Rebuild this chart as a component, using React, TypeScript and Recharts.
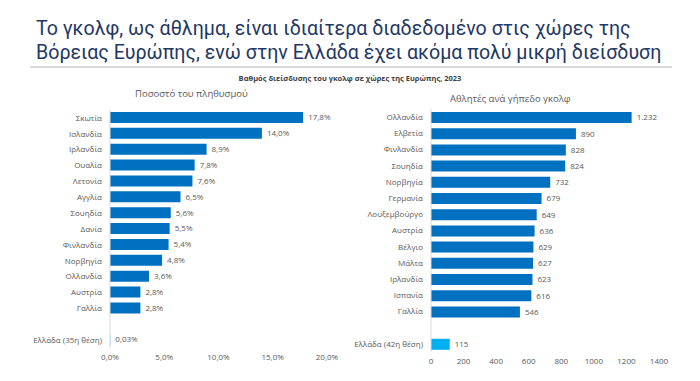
import { BarChart, Bar, XAxis, YAxis, LabelList, Cell } from "recharts";

const shareCountries = [
  "Σκωτία", "Ισλανδία", "Ιρλανδία", "Ουαλία", "Λετονία", "Αγγλία", "Σουηδία",
  "Δανία", "Φινλανδία", "Νορβηγία", "Ολλανδία", "Αυστρία", "Γαλλία", "", "Ελλάδα (35η θέση)",
];
const shareValues: (number | null)[] = [
  17.8, 14.0, 8.9, 7.8, 7.6, 6.5, 5.6, 5.5, 5.4, 4.8, 3.6, 2.8, 2.8, null, 0.03,
];
const shareTicks = [0, 5, 10, 15, 20];

const playerCountries = [
  "Ολλανδία", "Ελβετία", "Φινλανδία", "Σουηδία", "Νορβηγία", "Γερμανία", "Λουξεμβούργο",
  "Αυστρία", "Βέλγιο", "Μάλτα", "Ιρλανδία", "Ισπανία", "Γαλλία", "", "Ελλάδα (42η θέση)",
];
const playerValues: (number | null)[] = [
  1232, 890, 828, 824, 732, 679, 649, 636, 629, 627, 623, 616, 546, null, 115,
];
const playerTicks = [0, 200, 400, 600, 800, 1000, 1200, 1400];

const BLUE = "#0070C0";
const LIGHT = "#00B0F0";
const GREY = "#595959";
const FONT = "'Open Sans', 'Noto Sans', sans-serif";

const shareData = shareCountries.map((name, i) => ({ name, v: shareValues[i] }));
const playerData = playerCountries.map((name, i) => ({ name, v: playerValues[i] }));

const fmtPct = (v: any) => {
  if (v == null) return "";
  return (v < 0.1 ? v.toFixed(2) : v.toFixed(1)).replace(".", ",") + "%";
};
const fmtAxisPct = (v: number) => v.toFixed(1).replace(".", ",") + "%";
const fmtInt = (v: any) => {
  if (v == null) return "";
  return String(v).replace(/\B(?=(\d{3})+(?!\d))/g, ".");
};

const tickStyle = { fontSize: 8, fill: GREY, fontFamily: FONT };

// category ticks drawn by hand so long names don't wrap
function NameTick({ x, y, payload }: any) {
  return (
    <text x={x} y={y} dy="0.35em" textAnchor="end" fontSize={8} fill={GREY} fontFamily={FONT}>
      {payload.value}
    </text>
  );
}

const titleLine = {
  position: "absolute" as const,
  left: 36,
  height: 23,
  fontFamily: "Roboto, 'Open Sans', sans-serif",
  fontSize: 19.6,
  lineHeight: "23px",
  color: "#1F3864",
  whiteSpace: "nowrap" as const,
};

export default function App() {
  return (
    <div
      style={{
        position: "absolute",
        left: 0,
        top: 0,
        width: 700,
        height: 381,
        background: "#fff",
        fontFamily: FONT,
        overflow: "hidden",
      }}
    >
      <div style={{ ...titleLine, top: 17 }}>
        Το γκολφ, ως άθλημα, είναι ιδιαίτερα διαδεδομένο στις χώρες της
      </div>
      <div style={{ ...titleLine, top: 41 }}>
        Βόρειας Ευρώπης, ενώ στην Ελλάδα έχει ακόμα πολύ μικρή διείσδυση
      </div>
      <div style={{ position: "absolute", left: 30, top: 66, width: 642, height: 2, background: "#d9d9d9" }} />
      <div
        style={{
          position: "absolute",
          left: 0,
          width: 700,
          top: 73,
          textAlign: "center",
          fontSize: 7.5,
          fontWeight: 700,
          color: "#404040",
        }}
      >
        Βαθμός διείσδυσης του γκολφ σε χώρες της Ευρώπης, 2023
      </div>
      <div style={{ position: "absolute", left: 135, top: 87, fontSize: 9.5, color: GREY }}>
        Ποσοστό του πληθυσμού
      </div>
      <div style={{ position: "absolute", left: 450, top: 92, fontSize: 9.5, color: GREY }}>
        Αθλητές ανά γήπεδο γκολφ
      </div>

      <div style={{ position: "absolute", left: 0, top: 0 }}>
        <BarChart
          width={350}
          height={381}
          data={shareData}
          layout="vertical"
          margin={{ top: 110, right: 23, bottom: 13, left: 0 }}
        >
          <XAxis
            type="number"
            domain={[0, 20]}
            ticks={shareTicks}
            tickFormatter={fmtAxisPct}
            axisLine={false}
            tickLine={false}
            tick={tickStyle}
            height={20}
            tickSize={4}
          />
          <YAxis
            type="category"
            dataKey="name"
            width={110}
            interval={0}
            tickLine={false}
            axisLine={{ stroke: "#d9d9d9" }}
            tick={<NameTick />}
          />
          <Bar dataKey="v" barSize={11} isAnimationActive={false}>
            {shareData.map((d, i) => (
              <Cell key={i} fill={d.name.startsWith("Ελλάδα") ? LIGHT : BLUE} />
            ))}
            <LabelList dataKey="v" position="right" offset={5} formatter={fmtPct} style={tickStyle} />
          </Bar>
        </BarChart>
      </div>

      <div style={{ position: "absolute", left: 350, top: 0 }}>
        <BarChart
          width={350}
          height={381}
          data={playerData}
          layout="vertical"
          margin={{ top: 109, right: 41, bottom: 9, left: 0 }}
        >
          <XAxis
            type="number"
            domain={[0, 1400]}
            ticks={playerTicks}
            axisLine={false}
            tickLine={false}
            tick={tickStyle}
            height={20}
            tickSize={4}
          />
          <YAxis
            type="category"
            dataKey="name"
            width={81}
            interval={0}
            tickLine={false}
            axisLine={{ stroke: "#d9d9d9" }}
            tick={<NameTick />}
          />
          <Bar dataKey="v" barSize={11} isAnimationActive={false}>
            {playerData.map((d, i) => (
              <Cell key={i} fill={d.name.startsWith("Ελλάδα") ? LIGHT : BLUE} />
            ))}
            <LabelList dataKey="v" position="right" offset={5} formatter={fmtInt} style={tickStyle} />
          </Bar>
        </BarChart>
      </div>
    </div>
  );
}
